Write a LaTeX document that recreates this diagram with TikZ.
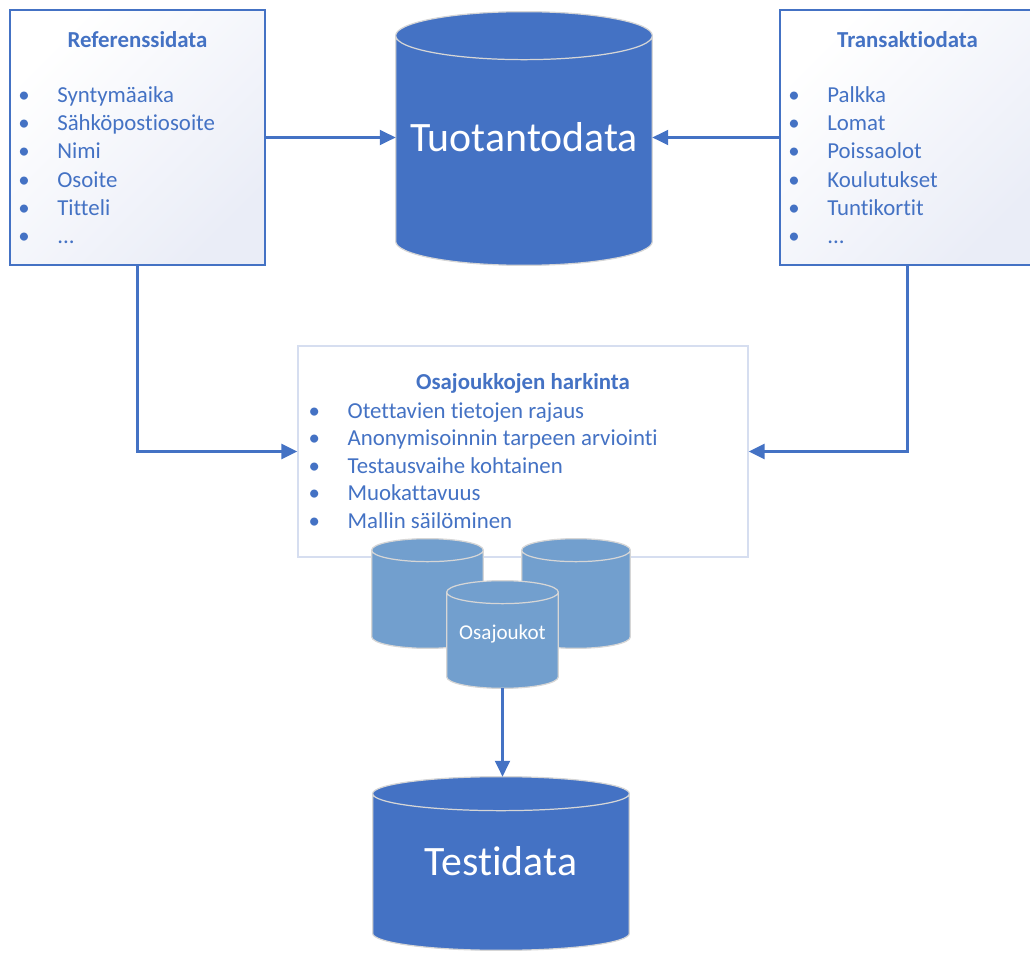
\documentclass[tikz,border=0pt]{standalone}
\usepackage{fontspec}
\setmainfont{Carlito}[Ligatures=NoCommon]
\usetikzlibrary{arrows.meta,positioning,calc}
\definecolor{dbdark}{RGB}{68,114,196}
\definecolor{dblight}{RGB}{114,159,206}
\definecolor{softline}{RGB}{214,222,240}
\definecolor{panelshade}{RGB}{234,237,247}
\newcommand{\bl}[1]{\makebox[0.78cm][l]{\textbullet}#1}
% cylinder round the named node #1, end radius #2, fill #3
\newcommand{\dbshape}[3]{%
  \path let \p1=(#1.north west),\p2=(#1.south east),\n1={(\x2-\x1)/2} in
    [fill=#3,draw=black!16,line width=.7pt]
    (\x1,\y1-#2) -- (\x1,\y2+#2)
    arc[start angle=180,end angle=360,x radius=\n1,y radius=#2]
    -- (\x2,\y1-#2)
    arc[start angle=0,end angle=180,x radius=\n1,y radius=#2] -- cycle
    (\x1,\y1-#2) arc[start angle=180,end angle=360,x radius=\n1,y radius=#2];}

\begin{document}
\begin{tikzpicture}[>={Triangle[length=9pt,width=8.5pt]},
  panel/.style={draw=dbdark,line width=1.2pt,top color=white,
    bottom color=panelshade,shading angle=45,minimum width=5.1cm,minimum height=5.1cm},
  softpanel/.style={draw=softline,line width=.8pt,fill=white,
    minimum width=9cm,minimum height=4.22cm},
  paneltitle/.style={font=\fontsize{13}{15}\selectfont\bfseries,text=dbdark,
    inner sep=0pt,anchor=base},
  items/.style={font=\fontsize{13}{16}\selectfont,text=dbdark,align=left,
    inner sep=0pt,anchor=north west},
  dbbox/.style={inner sep=0pt},
  dbtext/.style={text=white,inner sep=0pt,font=\fontsize{23.8}{28}\selectfont},
  flow/.style={->,line width=1.3pt,draw=dbdark}]
\useasboundingbox (0,0) rectangle (20.6,-19.06);
% source panels
\node[panel] (refbox) at (2.75,-2.75) {};
\node[paneltitle] (reftitle) at ([yshift=-.78cm]refbox.north) {Referenssidata};
\node[items] (refitems) at ([xshift=.18cm,yshift=-1.55cm]refbox.north west)
  {\bl{Syntymäaika}\\\bl{Sähköpostiosoite}\\\bl{Nimi}\\\bl{Osoite}\\\bl{Titteli}\\\bl{...}};
\node[panel] (transbox) at (18.15,-2.75) {};
\node[paneltitle] (transtitle) at ([yshift=-.78cm]transbox.north) {Transaktiodata};
\node[items] (transitems) at ([xshift=.18cm,yshift=-1.55cm]transbox.north west)
  {\bl{Palkka}\\\bl{Lomat}\\\bl{Poissaolot}\\\bl{Koulutukset}\\\bl{Tuntikortit}\\\bl{...}};
% production data
\node[dbbox,minimum width=5.12cm,minimum height=5.06cm] (prod) at (10.48,-2.77) {};
\dbshape{prod}{.48cm}{dbdark}
\node[dbtext] (prodtext) at ([yshift=.02cm]prod.center) {Tuotantodata};
% subset planning
\node[softpanel] (harkinta) at (10.46,-9.03) {};
\node[paneltitle] (harktitle) at ([yshift=-.89cm]harkinta.north) {Osajoukkojen harkinta};
\node[items,font=\fontsize{13}{15.6}\selectfont] (harkitems)
  at ([xshift=.22cm,yshift=-1.14cm]harkinta.north west)
  {\bl{Otettavien tietojen rajaus}\\\bl{Anonymisoinnin tarpeen arviointi}\\
   \bl{Testausvaihe kohtainen}\\\bl{Muokattavuus}\\\bl{Mallin säilöminen}};
\node[dbbox,minimum width=2.22cm,minimum height=2.18cm] (osaleft) at (8.55,-11.87) {};
\dbshape{osaleft}{.23cm}{dblight}
\node[dbbox,minimum width=2.16cm,minimum height=2.18cm] (osaright) at (11.52,-11.87) {};
\dbshape{osaright}{.23cm}{dblight}
\node[dbbox,minimum width=2.22cm,minimum height=2.14cm] (osa) at (10.05,-12.69) {};
\dbshape{osa}{.23cm}{dblight}
\node[dbtext,font=\fontsize{12}{14}\selectfont] (osatext) at ([yshift=.02cm]osa.center) {Osajoukot};
% test data
\node[dbbox,minimum width=5.12cm,minimum height=3.46cm] (testi) at (10.02,-17.27) {};
\dbshape{testi}{.34cm}{dbdark}
\node[dbtext] (testitext) at ([yshift=.04cm]testi.center) {Testidata};
\draw[flow] (refbox.east) -- (refbox.east -| prod.west);
\draw[flow] (transbox.west) -- (transbox.west -| prod.east);
\draw[flow] (refbox.south) |- (harkinta.west);
\draw[flow] (transbox.south) |- (harkinta.east);
\draw[flow] (osa.south) -- (osa.south |- testi.north);
\end{tikzpicture}
\end{document}
